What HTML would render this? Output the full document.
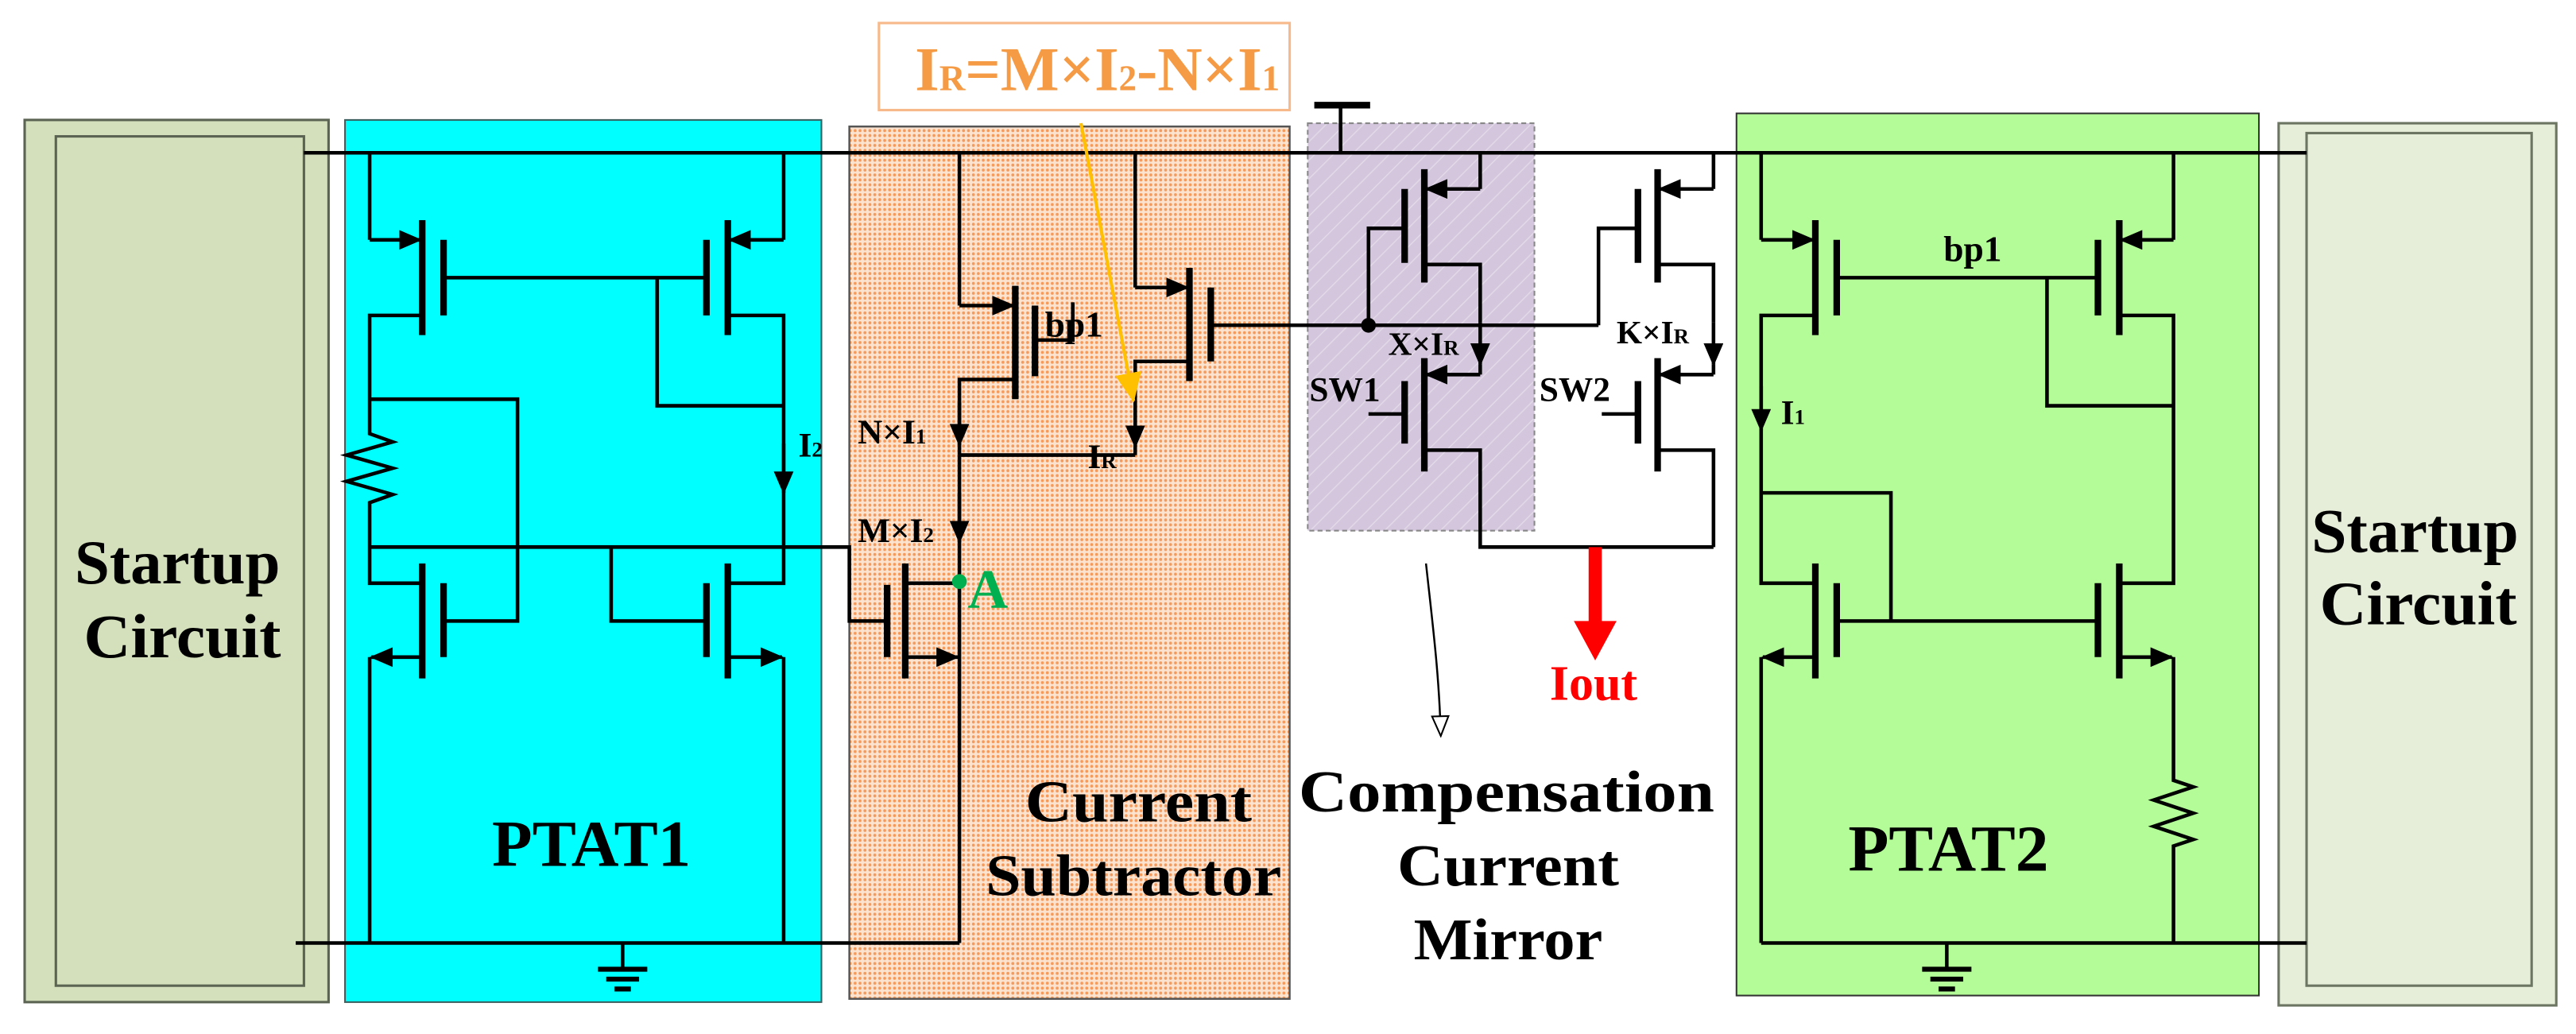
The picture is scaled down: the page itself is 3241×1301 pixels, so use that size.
<!DOCTYPE html>
<html><head><meta charset="utf-8"><style>
html,body{margin:0;padding:0;background:#fff;}
svg{display:block;}
text{font-family:"Liberation Serif",serif;font-weight:bold;}
</style></head><body>
<svg width="3241" height="1301" viewBox="0 0 1568 629.4" xmlns="http://www.w3.org/2000/svg">
<defs>
<marker id="ah" markerUnits="userSpaceOnUse" markerWidth="14" markerHeight="12" refX="13" refY="6" orient="auto"><path d="M0,0 L14,6 L0,12 z" fill="#000"/></marker>
<marker id="ay" markerUnits="userSpaceOnUse" markerWidth="18" markerHeight="16" refX="17" refY="8" orient="auto"><path d="M0,0 L18,8 L0,16 z" fill="#ffc000"/></marker>
<marker id="ao" markerUnits="userSpaceOnUse" markerWidth="14" markerHeight="12" refX="13" refY="6" orient="auto"><path d="M1,1 L13,6 L1,11 z" fill="#fff" stroke="#000" stroke-width="1"/></marker>
<pattern id="dots" width="3" height="3" patternUnits="userSpaceOnUse"><rect width="3" height="3" fill="#fbe3d0"/><circle cx="1.5" cy="1.5" r="0.9" fill="#f59a5a"/></pattern>
<pattern id="hatch" width="8" height="8" patternUnits="userSpaceOnUse" patternTransform="rotate(45)"><rect width="8" height="8" fill="#d3c6dd"/><line x1="0" y1="0" x2="0" y2="8" stroke="#e2d9e8" stroke-width="1.5"/></pattern>
</defs>

<!-- blocks -->
<rect x="15" y="73" width="185" height="537" fill="#d4e0bc" stroke="#5b6352" stroke-width="1.5"/>
<rect x="34" y="83" width="151" height="517" fill="#d4e0bc" stroke="#5b6352" stroke-width="1.5"/>
<rect x="210" y="73" width="290" height="537" fill="#00ffff" stroke="#3a6060" stroke-width="1"/>
<rect x="517" y="77" width="268" height="531" fill="url(#dots)" stroke="#555" stroke-width="1.2"/>
<rect x="796" y="75" width="138" height="248" fill="url(#hatch)" stroke="#888" stroke-width="1" stroke-dasharray="3,2"/>
<rect x="1057" y="69" width="318" height="537" fill="#b3fc98" stroke="#333" stroke-width="1"/>
<rect x="1387" y="75" width="169" height="537" fill="#e6edd9" stroke="#6b7562" stroke-width="1.5"/>
<rect x="1404" y="81" width="137" height="519" fill="#e6edd9" stroke="#6b7562" stroke-width="1.5"/>

<!-- IR box -->
<rect x="535" y="14" width="250" height="53" fill="#fff" stroke="#f8b98a" stroke-width="1.5"/>
<text x="557" y="55" font-size="38" fill="#f59a45" textLength="222" lengthAdjust="spacingAndGlyphs">I<tspan font-size="22">R</tspan>=M×I<tspan font-size="22">2</tspan>-N×I<tspan font-size="22">1</tspan></text>

<g stroke="#000" stroke-width="2.2" fill="none">
<path d="M185 93 H1404"/>
<path d="M180 574 H584"/>
<path d="M1072 574 H1404"/>
<path d="M816 93 V64"/><path d="M800 64 H834" stroke-width="4"/>
<path d="M379 574 V590"/><path d="M364 590 H394 M369 596 H389 M374 602 H384" stroke-width="3"/>
<path d="M1185 574 V590"/><path d="M1170 590 H1200 M1175 596 H1195 M1180 602 H1190" stroke-width="3"/>

<!-- PTAT1 -->
<path d="M225 93 V146"/><line x1="225" y1="146" x2="256" y2="146" marker-end="url(#ah)"/>
<path d="M257 134 V204 M270 146 V192 M443 134 V204 M430 146 V192" stroke-width="4"/>
<path d="M270 169 H430"/>
<path d="M257 192 H225 V264 l14 5 l-28 8 l28 8 l-28 8 l28 8 l-14 5 V355 H257"/>
<path d="M477 93 V146"/><line x1="477" y1="146" x2="444" y2="146" marker-end="url(#ah)"/>
<path d="M443 192 H477 V355 H443"/>
<line x1="477" y1="270" x2="477" y2="300" marker-end="url(#ah)"/>
<path d="M400 169 V247 H477"/>
<path d="M225 243 H315 V378 H270"/>
<path d="M225 333 H517 V378 H540"/>
<path d="M372 333 V378 H430"/>
<path d="M257 343 V413 M270 355 V400 M443 343 V413 M430 355 V400" stroke-width="4"/>
<line x1="257" y1="400" x2="226" y2="400" marker-end="url(#ah)"/><path d="M225 400 V574"/>
<line x1="443" y1="400" x2="476" y2="400" marker-end="url(#ah)"/><path d="M477 400 V574"/>

<!-- Subtractor -->
<path d="M584 93 V186"/><line x1="584" y1="186" x2="617" y2="186" marker-end="url(#ah)"/>
<path d="M618 174 V243 M630 186 V229 M724 163 V232 M737 175 V220" stroke-width="4"/>
<path d="M630 207 H653 V184"/>
<path d="M618 231 H584 V277"/>
<line x1="584" y1="245" x2="584" y2="271" marker-end="url(#ah)"/>
<path d="M584 277 H691"/>
<path d="M691 93 V175"/><line x1="691" y1="175" x2="723" y2="175" marker-end="url(#ah)"/>
<path d="M737 198 H973"/>
<path d="M724 220 H691 V277"/>
<line x1="691" y1="245" x2="691" y2="272" marker-end="url(#ah)"/>
<path d="M584 277 V574"/>
<line x1="584" y1="300" x2="584" y2="330" marker-end="url(#ah)"/>
<path d="M584 355 H551"/>
<path d="M551 343 V413 M540 356 V400" stroke-width="4"/>
<line x1="551" y1="400" x2="583" y2="400" marker-end="url(#ah)"/>

<!-- Compensation mirror -->
<path d="M901 93 V115"/><line x1="901" y1="115" x2="868" y2="115" marker-end="url(#ah)"/>
<path d="M867 103 V172 M855 115 V160 M867 218 V287 M855 232 V270" stroke-width="4"/>
<path d="M855 139 H833 V198"/>
<path d="M867 161 H901 V196"/><line x1="901" y1="196" x2="901" y2="222" marker-end="url(#ah)"/>
<path d="M901 222 V228"/><line x1="901" y1="228" x2="868" y2="228" marker-end="url(#ah)"/>
<path d="M833 252 H855"/>
<path d="M867 274 H901 V333 H1043"/>
<path d="M1043 93 V115"/><line x1="1043" y1="115" x2="1010" y2="115" marker-end="url(#ah)"/>
<path d="M1009 103 V172 M997 115 V160 M1009 218 V287 M997 232 V270" stroke-width="4"/>
<path d="M997 139 H973 V198"/>
<path d="M1009 161 H1043 V196"/><line x1="1043" y1="196" x2="1043" y2="222" marker-end="url(#ah)"/>
<path d="M1043 222 V228"/><line x1="1043" y1="228" x2="1010" y2="228" marker-end="url(#ah)"/>
<path d="M975 252 H997"/>
<path d="M1009 274 H1043 V333"/>
<path d="M868 343 C872 380 876 410 877 448" stroke-width="1.2" marker-end="url(#ao)"/>

<!-- PTAT2 -->
<path d="M1072 93 V146"/><line x1="1072" y1="146" x2="1104" y2="146" marker-end="url(#ah)"/>
<path d="M1105 134 V204 M1118 146 V192 M1290 134 V204 M1277 146 V192" stroke-width="4"/>
<path d="M1118 169 H1277"/>
<path d="M1323 93 V146"/><line x1="1323" y1="146" x2="1291" y2="146" marker-end="url(#ah)"/>
<path d="M1246 169 V247 H1323"/>
<path d="M1290 192 H1323 V355 H1290"/>
<path d="M1105 192 H1072 V355 H1105"/>
<line x1="1072" y1="235" x2="1072" y2="262" marker-end="url(#ah)"/>
<path d="M1072 300 H1151 V378"/>
<path d="M1118 378 H1277"/>
<path d="M1105 343 V413 M1118 355 V400 M1290 343 V413 M1277 355 V400" stroke-width="4"/>
<line x1="1105" y1="400" x2="1073" y2="400" marker-end="url(#ah)"/><path d="M1072 400 V574"/>
<line x1="1290" y1="400" x2="1322" y2="400" marker-end="url(#ah)"/>
<path d="M1323 400 V475 l12 4 l-24 8 l24 8 l-24 8 l24 8 l-12 4 V574"/>
</g>

<circle cx="833" cy="198" r="4.5" fill="#000"/>
<circle cx="584" cy="354" r="4.5" fill="#00b050"/>
<line x1="658" y1="75" x2="690" y2="244" stroke="#ffc000" stroke-width="2" marker-end="url(#ay)"/>
<path d="M971 333 V385" stroke="#ff0000" stroke-width="8"/>
<polygon points="958,378 984,378 971,402" fill="#ff0000"/>

<g fill="#000">
<text x="108" y="355" font-size="38" text-anchor="middle" textLength="125" lengthAdjust="spacingAndGlyphs">Startup</text>
<text x="111" y="400" font-size="38" text-anchor="middle" textLength="120" lengthAdjust="spacingAndGlyphs">Circuit</text>
<text x="1470" y="336" font-size="38" text-anchor="middle" textLength="126" lengthAdjust="spacingAndGlyphs">Startup</text>
<text x="1472" y="380" font-size="38" text-anchor="middle" textLength="120" lengthAdjust="spacingAndGlyphs">Circuit</text>
<text x="360" y="527" font-size="40" text-anchor="middle" textLength="121" lengthAdjust="spacingAndGlyphs">PTAT1</text>
<text x="1186" y="530" font-size="40" text-anchor="middle" textLength="122" lengthAdjust="spacingAndGlyphs">PTAT2</text>
<text x="693" y="500" font-size="36" text-anchor="middle" textLength="138" lengthAdjust="spacingAndGlyphs">Current</text>
<text x="690" y="545" font-size="36" text-anchor="middle" textLength="180" lengthAdjust="spacingAndGlyphs">Subtractor</text>
<text x="917" y="494" font-size="36" text-anchor="middle" textLength="253" lengthAdjust="spacingAndGlyphs">Compensation</text>
<text x="918" y="539" font-size="36" text-anchor="middle" textLength="135" lengthAdjust="spacingAndGlyphs">Current</text>
<text x="918" y="584" font-size="36" text-anchor="middle" textLength="115" lengthAdjust="spacingAndGlyphs">Mirror</text>
<text x="636" y="205" font-size="22">bp1</text>
<text x="1183" y="159" font-size="22">bp1</text>
<text x="522" y="270" font-size="21">N×I<tspan font-size="13">1</tspan></text>
<text x="522" y="330" font-size="21">M×I<tspan font-size="13">2</tspan></text>
<text x="662" y="285" font-size="21">I<tspan font-size="13">R</tspan></text>
<text x="486" y="278" font-size="21">I<tspan font-size="13">2</tspan></text>
<text x="1084" y="258" font-size="21">I<tspan font-size="13">1</tspan></text>
<text x="845" y="216" font-size="20">X×I<tspan font-size="13">R</tspan></text>
<text x="984" y="209" font-size="20">K×I<tspan font-size="13">R</tspan></text>
<text x="797" y="244" font-size="21">SW1</text>
<text x="937" y="244" font-size="21">SW2</text>
</g>
<text x="589" y="370" font-size="34" fill="#00b050">A</text>
<text x="970" y="426" font-size="30" fill="#ff0000" text-anchor="middle">Iout</text>
</svg>
</body></html>
